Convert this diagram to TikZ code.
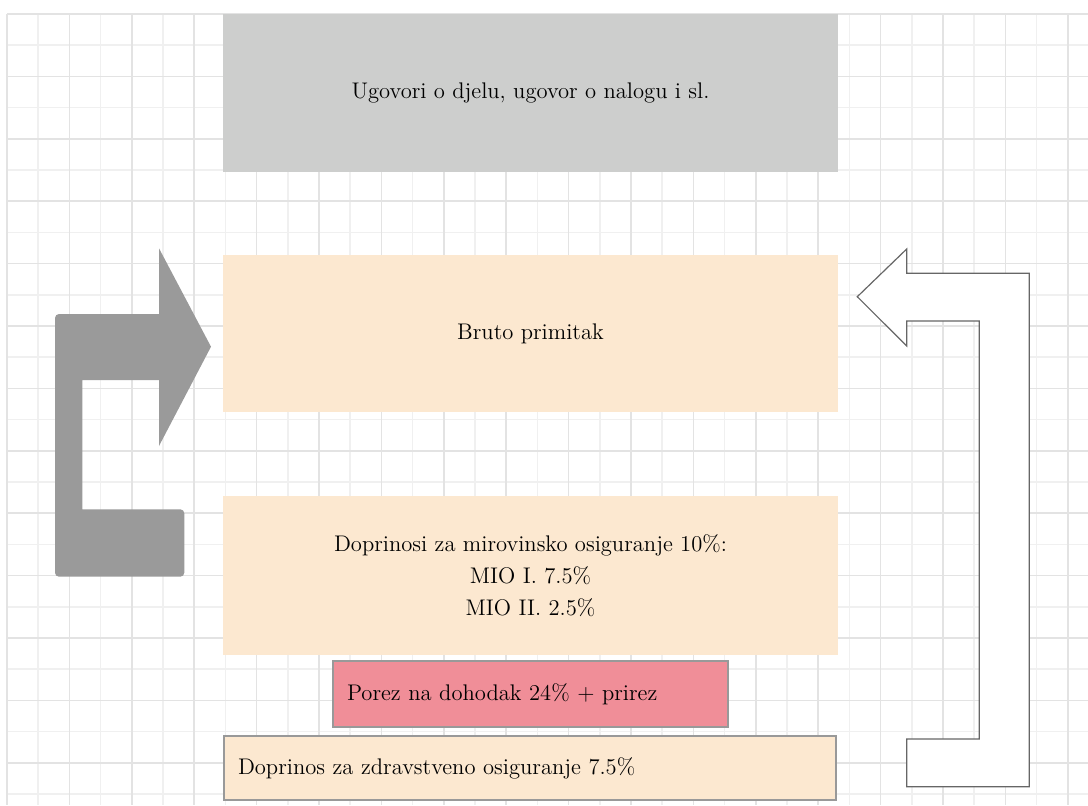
\documentclass[tikz,border=0pt]{standalone}
\usepackage{fontspec}
\definecolor{boxgray}{HTML}{CDCECD}
\definecolor{peach}{HTML}{FCE8D0}
\definecolor{rosepink}{HTML}{F08E98}
\definecolor{gridmajor}{HTML}{E3E3E3}
\definecolor{gridminor}{HTML}{F0F0F0}
\definecolor{arrowgray}{HTML}{9A9A9A}
\tikzset{
    box/.style={inner sep=0pt, text=black, font=\fontsize{11.3}{16}\selectfont, align=center},
    leftbox/.style={box, draw=black!40, line width=0.6pt, inner xsep=7pt, align=left},
}

\begin{document}
\begin{tikzpicture}[x=0.5pt,y=-0.5pt]
    \useasboundingbox (0,0) rectangle (1088,805);
    \foreach \i in {1,3,...,33} \draw[gridminor, line width=0.75pt] (7+31.2*\i,14) -- (7+31.2*\i,805);
    \foreach \i in {1,3,...,25} \draw[gridminor, line width=0.75pt] (7,14+31.2*\i) -- (1088,14+31.2*\i);
    \foreach \i in {0,2,...,34} \draw[gridmajor, line width=0.75pt] (7+31.2*\i,14) -- (7+31.2*\i,805);
    \foreach \i in {0,2,...,24} \draw[gridmajor, line width=0.75pt] (7,14+31.2*\i) -- (1088,14+31.2*\i);

    \node[box, fill=boxgray, minimum width=307.5pt, minimum height=79pt] (ugovori) at (530.5,93) {Ugovori o djelu, ugovor o nalogu i sl.};
    \node[box, fill=peach, minimum width=307.5pt, minimum height=78.5pt] (bruto) at (530.5,333.5) {Bruto primitak};
    \node[box, fill=peach, minimum width=307.5pt, minimum height=79.5pt] (doprinosi) at (530.5,575.5) {Doprinosi za mirovinsko osiguranje 10\%:\\MIO I. 7.5\%\\MIO II. 2.5\%};
    \node[leftbox, fill=rosepink, text width=183.5pt, minimum height=33pt] (porez) at (530.5,694) {Porez na dohodak 24\% + prirez};
    \node[leftbox, fill=peach, text width=292pt, minimum height=32pt] (zdravstveno) at (530,768) {Doprinos za zdravstveno osiguranje 7.5\%};

    \fill[arrowgray] (211,346.7) -- (159,248.3) -- (159,314) [rounded corners=2pt] -- (55,314) -- (55,576.7) -- (184.3,576.7) -- (184.3,509.3) [sharp corners] -- (82.3,509.3) -- (82.3,380) -- (159,380) -- (159,446) -- cycle;
    \draw[fill=white, draw=black!60, line width=0.6pt] (857.3,296.7) -- (906.7,249) -- (906.7,273.3) -- (1029.3,273.3) -- (1029.3,786.7) -- (906.7,786.7) -- (906.7,739) -- (979.3,739) -- (979.3,321) -- (906.7,321) -- (906.7,346) -- cycle;
\end{tikzpicture}
\end{document}
